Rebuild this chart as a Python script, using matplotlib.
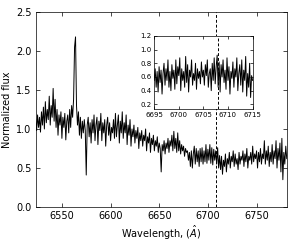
import numpy as np
import matplotlib
matplotlib.use('Agg')
import matplotlib.pyplot as plt

# spectrum, 1 A sampling starting at 6523 A
wl_start = 6523.0
wl_step = 1.0
flux = [
    1.12, 0.98, 1.18, 1.02, 1.15, 0.96, 1.22, 1.05, 1.28, 1.00,
    1.35, 1.08, 1.25, 1.12, 1.42, 1.05, 1.30, 1.15, 1.52, 1.10,
    1.38, 1.02, 1.25, 0.92, 1.18, 1.05, 1.22, 0.88, 1.15, 1.02,
    1.20, 0.86, 1.10, 1.18, 0.95, 1.25, 1.02, 1.30, 1.15, 1.38,
    2.05, 2.18, 1.30, 1.05, 1.22, 0.92, 1.15, 0.88, 1.10, 0.95,
    1.12, 0.98, 0.41, 1.05, 1.15, 0.90, 1.08, 0.82, 1.12, 0.95,
    1.18, 0.85, 1.05, 1.15, 0.80, 1.10, 0.98, 1.20, 0.85, 1.08,
    0.95, 1.12, 0.78, 1.05, 1.15, 0.92, 1.08, 0.85, 1.02, 0.95,
    1.12, 0.88, 1.20, 0.90, 1.05, 1.18, 0.82, 1.10, 0.95, 1.22,
    0.88, 1.08, 0.95, 1.18, 0.80, 1.05, 0.92, 1.12, 0.78, 1.00,
    0.90, 1.05, 0.82, 0.98, 0.88, 1.02, 0.75, 0.95, 0.85, 0.98,
    0.78, 0.92, 0.85, 1.00, 0.72, 0.90, 0.82, 0.95, 0.70, 0.88,
    0.80, 0.92, 0.72, 0.85, 0.78, 0.90, 0.70, 0.82, 0.75, 0.45,
    0.80, 0.72, 0.85, 0.68, 0.82, 0.75, 0.88, 0.70, 0.85, 0.78,
    0.92, 0.72, 0.97, 0.75, 0.88, 0.70, 0.95, 0.72, 0.85, 0.68,
    0.80, 0.72, 0.78, 0.65, 0.75, 0.70, 0.72, 0.60, 0.70, 0.52,
    0.72, 0.50, 0.68, 0.78, 0.55, 0.75, 0.58, 0.72, 0.52, 0.75,
    0.58, 0.76, 0.55, 0.72, 0.58, 0.80, 0.56, 0.74, 0.60, 0.80,
    0.56, 0.76, 0.54, 0.74, 0.60, 0.72, 0.55, 0.76, 0.50, 0.66,
    0.48, 0.65, 0.42, 0.60, 0.52, 0.68, 0.45, 0.62, 0.55, 0.70,
    0.50, 0.65, 0.58, 0.72, 0.52, 0.68, 0.55, 0.62, 0.48, 0.70,
    0.55, 0.65, 0.60, 0.72, 0.52, 0.68, 0.58, 0.75, 0.50, 0.65,
    0.60, 0.70, 0.55, 0.78, 0.58, 0.68, 0.62, 0.72, 0.50, 0.70,
    0.58, 0.75, 0.55, 0.68, 0.62, 0.85, 0.55, 0.72, 0.60, 0.78,
    0.52, 0.70, 0.58, 0.80, 0.55, 0.72, 0.62, 0.85, 0.50, 0.75,
    0.60, 0.82, 0.45, 0.88, 0.35, 0.70, 0.55, 0.78, 0.62,
]

# zoom around the Li line, 0.2 A sampling
zoom_start = 6695.0
zoom_step = 0.2
flux_zoom = [
    0.55, 0.72, 0.45, 0.68, 0.38, 0.75, 0.52, 0.70, 0.35, 0.65,
    0.80, 0.48, 0.72, 0.55, 0.85, 0.45, 0.68, 0.40, 0.78, 0.58,
    0.70, 0.42, 0.85, 0.50, 0.75, 0.62, 0.88, 0.40, 0.72, 0.55,
    0.68, 0.45, 0.90, 0.52, 0.78, 0.38, 0.70, 0.60, 0.85, 0.48,
    0.65, 0.55, 0.80, 0.42, 0.72, 0.58, 0.68, 0.50, 0.82, 0.60,
    0.70, 0.48, 0.78, 0.62, 0.85, 0.45, 0.65, 0.72, 0.40, 0.80,
    0.55, 0.88, 0.50, 0.75, 0.92, 0.45, 0.82, 0.38, 0.78, 0.60,
    0.85, 0.52, 0.70, 0.42, 0.88, 0.55, 0.75, 0.35, 0.68, 0.58,
    0.82, 0.45, 0.72, 0.60, 0.88, 0.40, 0.65, 0.78, 0.48, 0.85,
    0.38, 0.70, 0.55, 0.90, 0.32, 0.65, 0.45, 0.80, 0.30, 0.62,
    0.55,
]

li_line = 6708.0

wl = wl_start + wl_step*np.arange(len(flux))
wl_zoom = zoom_start + zoom_step*np.arange(len(flux_zoom))

plt.rcParams['font.family'] = 'DejaVu Sans'
plt.rcParams['xtick.direction'] = 'in'
plt.rcParams['ytick.direction'] = 'in'
plt.rcParams['xtick.top'] = True
plt.rcParams['ytick.right'] = True

fig = plt.figure(figsize=(2.92, 2.43), dpi=100)
ax = fig.add_axes([0.122, 0.148, 0.860, 0.803])
ax.plot(wl, flux, color='k', lw=0.7)
ax.axvline(li_line, color='k', ls='--', lw=0.7, dashes=(3, 2))
ax.set_xlim(6523, 6781)
ax.set_ylim(0, 2.5)
ax.set_xticks([6550, 6600, 6650, 6700, 6750])
ax.set_yticks([0.0, 0.5, 1.0, 1.5, 2.0, 2.5])
ax.tick_params(labelsize=7, length=3, width=0.5, pad=3)
ax.set_xlabel(r'Wavelength, ($\hat{A}$)', fontsize=7, labelpad=2)
ax.set_ylabel('Normalized flux', fontsize=7, labelpad=3)
for s in ax.spines.values():
    s.set_linewidth(0.5)

# inset
ax2 = fig.add_axes([0.528, 0.551, 0.337, 0.301])
ax2.plot(wl_zoom, flux_zoom, color='k', lw=0.7)
ax2.axvline(li_line, color='k', ls='--', lw=0.7, dashes=(3, 2))
ax2.set_xlim(6695, 6715)
ax2.set_ylim(0.13, 1.2)
ax2.set_xticks([6695, 6700, 6705, 6710, 6715])
ax2.set_yticks([0.2, 0.4, 0.6, 0.8, 1.0, 1.2])
ax2.tick_params(labelsize=5, length=2, width=0.5, pad=2)
for s in ax2.spines.values():
    s.set_linewidth(0.5)

plt.savefig('out.png', dpi=100)
